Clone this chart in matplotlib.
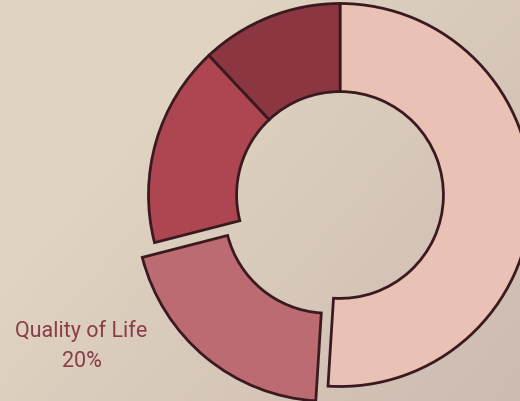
import numpy as np
import matplotlib
matplotlib.use("Agg")
import matplotlib.pyplot as plt

labels = ["Health", "Quality of Life", "Access", "Cost"]
values = [51, 20, 17, 12]
colors = ["#e9c1b5", "#bb6b71", "#ad4651", "#8c3641"]
explode = [0, 0.10, 0, 0]
shown_label = "Quality of Life"

fig = plt.figure(figsize=(5.2, 4.02), dpi=100)

# background gradient
bg = fig.add_axes([0, 0, 1, 1])
bg.axis("off")
h, w = 402, 520
yy, xx = np.mgrid[0:h, 0:w]
t = (xx / w * 0.6 + yy / h * 0.4)
t = np.clip((t - 0.3) / 0.7, 0, 1)
c0 = np.array([224, 211, 193]) / 255
c1 = np.array([204, 187, 177]) / 255
img = c0[None, None, :] * (1 - t[..., None]) + c1[None, None, :] * t[..., None]
bg.imshow(img, aspect="auto", extent=[0, 1, 0, 1])

ax = fig.add_axes([0, 0, 1, 1])
ax.set_facecolor("none")
R = 191.5
cx, cy = 340.0, 196.0

wedges, _ = ax.pie(values, colors=colors, explode=explode, startangle=90,
                   counterclock=False, radius=1.0,
                   wedgeprops=dict(width=0.46, edgecolor="#3b1a1f", linewidth=2))
ax.set_aspect("equal", adjustable="box")
ax.set_xlim(-cx / R, (w - cx) / R)
ax.set_ylim(-(h - cy) / R, cy / R)
ax.axis("off")

i = labels.index(shown_label)
tx = (81.5 - cx) / R
ax.text(tx, (cy - 336.7) / R, labels[i], ha="center", va="baseline",
        fontsize=15.5, color="#8b3c4a", family="Roboto")
ax.text(tx, (cy - 367.3) / R, f"{values[i]}%", ha="center", va="baseline",
        fontsize=15.5, color="#8b3c4a", family="Roboto")

fig.savefig("out.png", dpi=100)
